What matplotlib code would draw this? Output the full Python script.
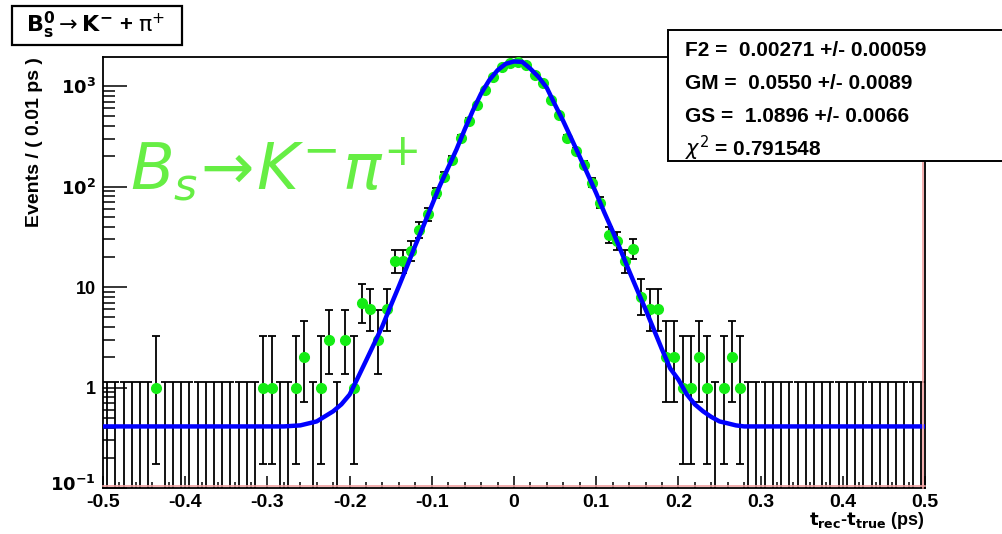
import numpy as np
import matplotlib.pyplot as plt
from matplotlib.patches import Rectangle
from matplotlib.ticker import FixedLocator, MultipleLocator, NullFormatter
from matplotlib.transforms import ScaledTranslation

plt.rcParams['font.family'] = ['Liberation Sans', 'DejaVu Sans']
plt.rcParams['mathtext.fontset'] = 'dejavusans'

# 100 bins of 0.01 ps between -0.5 and 0.5
bin_edges = np.linspace(-0.5, 0.5, 101)
bin_centers = 0.5 * (bin_edges[:-1] + bin_edges[1:])
counts = [0, 0, 0, 0, 0, 0, 1, 0, 0, 0,
          0, 0, 0, 0, 0, 0, 0, 0, 0, 1,
          1, 0, 0, 1, 2, 0, 1, 3, 0, 3,
          1, 7, 6, 3, 6, 18, 18, 23, 37, 53,
          86, 126, 186, 305, 454, 655, 923, 1220, 1540, 1700,
          1740, 1640, 1300, 1072, 734, 520, 305, 224, 165, 109,
          69, 33, 29, 18, 24, 8, 6, 6, 2, 2,
          1, 1, 2, 1, 0, 1, 2, 1, 0, 0,
          0, 0, 0, 0, 0, 0, 0, 0, 0, 0,
          0, 0, 0, 0, 0, 0, 0, 0, 0, 0]

# fitted resolution model, sampled along t_rec - t_true
fit_x = [-0.50, -0.28, -0.26, -0.24, -0.22, -0.21, -0.20, -0.19, -0.18, -0.17,
         -0.16, -0.15, -0.14, -0.13, -0.12, -0.11, -0.10, -0.09, -0.08, -0.07,
         -0.06, -0.05, -0.04, -0.03, -0.02, -0.01, 0.00, 0.01, 0.02, 0.03,
         0.04, 0.05, 0.06, 0.07, 0.08, 0.09, 0.10, 0.11, 0.12, 0.13,
         0.14, 0.15, 0.16, 0.17, 0.18, 0.19, 0.20, 0.21, 0.22, 0.23,
         0.24, 0.25, 0.26, 0.27, 0.28, 0.50]
fit_y = [0.41, 0.41, 0.42, 0.46, 0.58, 0.68, 0.85, 1.25, 1.85, 2.75,
         4.1, 6.5, 10.2, 16.2, 26, 41, 65, 103, 155, 234,
         370, 572, 845, 1150, 1440, 1670, 1760, 1745, 1490, 1230,
         960, 650, 447, 298, 198, 131, 86, 55, 36, 23,
         14.5, 9.3, 6.0, 3.8, 2.4, 1.55, 1.2, 0.86, 0.68, 0.58,
         0.51, 0.46, 0.44, 0.42, 0.41, 0.41]

stat_lines = ['F2 =  0.00271 +/- 0.00059',
              'GM =  0.0550 +/- 0.0089',
              'GS =  1.0896 +/- 0.0066',
              r'$\chi^{2}$ = 0.791548']

x_ticks = [-0.5, -0.4, -0.3, -0.2, -0.1, 0.0, 0.1, 0.2, 0.3, 0.4, 0.5]
x_ticklabels = ['-0.5', '-0.4', '-0.3', '-0.2', '-0.1', '0', '0.1', '0.2', '0.3', '0.4', '0.5']
y_ticks = [0.1, 1, 10, 100, 1000]
y_ticklabels = [r'$\mathbf{10^{-1}}$', '1', '10', r'$\mathbf{10^{2}}$', r'$\mathbf{10^{3}}$']

counts = np.array(counts)
has = counts > 0
n = counts[has].astype(float)
# asymmetric Poisson intervals (Wilson-Hilferty approximation)
hi = (n + 1) * (1 - 1 / (9 * (n + 1)) + 1 / (3 * np.sqrt(n + 1))) ** 3 - n
lo = n - n * (1 - 1 / (9 * n) - 1 / (3 * np.sqrt(n))) ** 3

W, H = 1003, 534
fig = plt.figure(figsize=(W / 100, H / 100), dpi=100)
ax = fig.add_axes([103 / W, 1 - 488 / H, 822 / W, 431 / H])
ax.set_yscale('log')

green = '#14ec14'
# empty bins: one-sided 68% upper limit drawn from the floor
zero_x = bin_centers[~has]
ax.errorbar(zero_x, np.full(len(zero_x), 1e-3),
            yerr=[np.zeros(len(zero_x)), np.full(len(zero_x), 1.147)],
            fmt='none', ecolor='black', elinewidth=1.3, capsize=3, capthick=1.3, zorder=2)
ax.errorbar(bin_centers[has], n, yerr=[lo, hi], fmt='o', color=green, mec=green,
            markersize=7, ecolor='black', elinewidth=1.3, capsize=3, capthick=1.3, zorder=3)
ax.plot(fit_x, fit_y, color='#0000ff', lw=3.2, zorder=5)

for s in ax.spines.values():
    s.set_color('black')
    s.set_linewidth(1.3)
off_x = ScaledTranslation(-2 / 100, 0, fig.dpi_scale_trans)
off_y = ScaledTranslation(0, 2 / 100, fig.dpi_scale_trans)
ax.plot([1, 1], [0, 1], transform=ax.transAxes + off_x, color='#f0a0a0', lw=1.2, clip_on=False, zorder=6)
ax.plot([0, 1], [0, 0], transform=ax.transAxes + off_y, color='#f0a0a0', lw=1.2, clip_on=False, zorder=6)

ax.set_xticks(x_ticks, x_ticklabels, fontsize=14, fontweight='bold')
ax.xaxis.set_minor_locator(MultipleLocator(0.02))
ax.set_yticks(y_ticks, y_ticklabels, fontsize=13, fontweight='bold')
minor_y = [m * 10.0 ** e for e in range(-1, 4) for m in range(2, 10)]
ax.yaxis.set_minor_locator(FixedLocator(minor_y))
ax.yaxis.set_minor_formatter(NullFormatter())
ax.set_xlim(-0.5, 0.5)
ax.set_ylim(0.1, 1950)
ax.tick_params(which='both', direction='in', top=False, right=False, width=1.1)
ax.tick_params(axis='x', which='major', length=9, pad=4)
ax.tick_params(axis='x', which='minor', length=4.5)
ax.tick_params(axis='y', which='major', length=17, pad=5)
ax.tick_params(axis='y', which='minor', length=8.5)

# lift the lowest decade label a little off the x labels
low = ax.yaxis.get_major_ticks()[0].label1
low.set_transform(low.get_transform() + ScaledTranslation(0, 5 / 100, fig.dpi_scale_trans))

ax.set_ylabel('Events / ( 0.01 ps )', loc='top', fontsize=14, fontweight='bold')
ax.yaxis.set_label_coords(-60 / 822, 1.0)
ax.set_xlabel(r'$\mathbf{t_{rec}}$-$\mathbf{t_{true}}$ (ps)', loc='right', fontsize=13, fontweight='bold')
ax.xaxis.set_label_coords(1.0, -22 / 431)
ax.xaxis.label.set_va('top')

# title box
fig.add_artist(Rectangle((11.7 / W, 1 - 45 / H), 170 / W, 39 / H, transform=fig.transFigure,
                         facecolor='white', edgecolor='black', lw=1.6, zorder=8))
fig.text(96 / W, 1 - 25 / H, r'$\mathbf{B_{s}^{0}}\rightarrow\mathbf{K^{-}}$ + $\mathrm{\pi}^{+}$',
         fontsize=16, fontweight='bold', ha='center', va='center', zorder=9)

# fit results box
fig.add_artist(Rectangle((668 / W, 1 - 161 / H), 360 / W, 131 / H, transform=fig.transFigure,
                         facecolor='white', edgecolor='black', lw=1.4, zorder=8))
for i, line in enumerate(stat_lines):
    fig.text(685 / W, 1 - (51 + 32.5 * i) / H, line, fontsize=15, fontweight='bold',
             ha='left', va='center', zorder=9)

fig.text(130 / W, 1 - 190 / H, r'$B_{s}\!\rightarrow\!K^{-}\pi^{+}$',
         fontsize=46, color='#66ee44', ha='left', va='baseline', zorder=9)

fig.savefig('out.png', dpi=100)
